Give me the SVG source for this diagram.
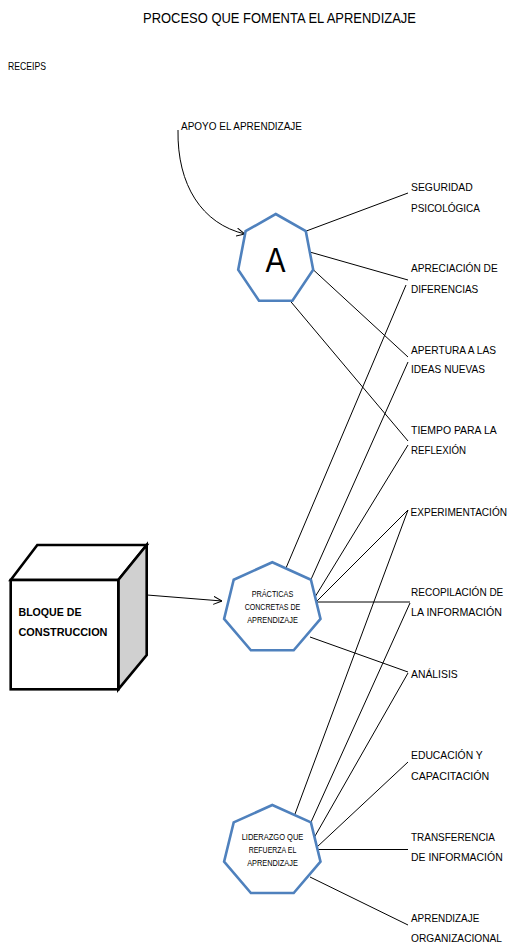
<svg xmlns="http://www.w3.org/2000/svg" width="511" height="943" viewBox="0 0 511 943">
<style>
text{font-family:"Liberation Sans",Arial,sans-serif;fill:#000}
.t{font-size:14.5px}
.l{font-size:11px}
.s{font-size:8.5px}
.b{font-size:11.5px;font-weight:bold}
.hep{fill:#fff;stroke:#4F81BD;stroke-width:2.6;stroke-linejoin:miter}
.c{stroke:#000;stroke-width:1;fill:none}
.cube{stroke:#000;stroke-width:2.6;stroke-linejoin:miter}
</style>
<defs>
<marker id="arr" viewBox="0 0 10 10" refX="9.5" refY="5" markerWidth="9" markerHeight="9" markerUnits="userSpaceOnUse" orient="auto">
<path d="M0,0.5 L9.5,5 L0,9.5" fill="none" stroke="#000" stroke-width="1.1"/>
</marker>
</defs>
<rect width="511" height="943" fill="#fff"/>
<text class="t" x="143" y="23" textLength="273" lengthAdjust="spacingAndGlyphs">PROCESO QUE FOMENTA EL APRENDIZAJE</text>
<text class="l" x="8" y="70" textLength="38" lengthAdjust="spacingAndGlyphs">RECEIPS</text>
<g id="connectors">
<path class="c" d="M178,130 C177,185 202,224 245,234" marker-end="url(#arr)"/>
<line class="c" x1="147" y1="595" x2="222" y2="601" marker-end="url(#arr)"/>
<line class="c" x1="305.8" y1="231.2" x2="408" y2="193"/>
<line class="c" x1="309.8" y1="252" x2="408" y2="280"/>
<line class="c" x1="313.2" y1="269.7" x2="408" y2="357"/>
<line class="c" x1="290" y1="300.7" x2="408" y2="441"/>
<line class="c" x1="286" y1="568" x2="406" y2="285"/>
<line class="c" x1="310.9" y1="579.7" x2="408" y2="362"/>
<line class="c" x1="315" y1="597" x2="408" y2="445"/>
<line class="c" x1="317" y1="601" x2="408" y2="510"/>
<line class="c" x1="317" y1="602" x2="410" y2="602"/>
<line class="c" x1="310" y1="637" x2="408" y2="672"/>
<line class="c" x1="295" y1="814" x2="408" y2="510"/>
<line class="c" x1="310.9" y1="822.4" x2="410" y2="603"/>
<line class="c" x1="314.5" y1="837" x2="408" y2="673"/>
<line class="c" x1="317" y1="847" x2="408" y2="762"/>
<line class="c" x1="318" y1="849.5" x2="408" y2="849.5"/>
<line class="c" x1="310" y1="877" x2="408" y2="925"/>
</g>
<g id="apoyo">
<text class="l" x="181" y="130" textLength="121" lengthAdjust="spacingAndGlyphs">APOYO EL APRENDIZAJE</text>
</g>
<g id="nodeA">
<polygon class="hep" points="275.7,214 305.8,231.2 313.2,269.7 292.4,300.7 259,300.7 238.2,269.7 245.6,231.2"/>
<text x="275.5" y="272" text-anchor="middle" style="font-size:35px" textLength="20" lengthAdjust="spacingAndGlyphs">A</text>
</g>
<g id="bloque">
<path class="cube" fill="#fff" d="M10.7,580 L37.3,545 L146.7,545 L118.3,580 Z"/>
<path class="cube" fill="#D0D0D0" d="M118.3,580 L146.7,545 L146.7,655 L118.3,689.3 Z"/>
<rect class="cube" fill="#fff" x="10.7" y="580" width="107.6" height="109.3"/>
<text class="b" x="18.5" y="616" textLength="63" lengthAdjust="spacingAndGlyphs">BLOQUE DE</text>
<text class="b" x="18.5" y="636" textLength="89" lengthAdjust="spacingAndGlyphs">CONSTRUCCION</text>
</g>
<g id="practicas">
<polygon class="hep" points="272.3,562.3 310.9,579.7 320.5,618.9 293.7,650.3 250.9,650.3 224.1,618.9 233.7,579.7"/>
<text class="s" x="272.5" y="597" text-anchor="middle" textLength="41.7" lengthAdjust="spacingAndGlyphs">PRÁCTICAS</text>
<text class="s" x="272.5" y="610" text-anchor="middle" textLength="55.7" lengthAdjust="spacingAndGlyphs">CONCRETAS DE</text>
<text class="s" x="272.5" y="623" text-anchor="middle" textLength="50.7" lengthAdjust="spacingAndGlyphs">APRENDIZAJE</text>
</g>
<g id="liderazgo">
<polygon class="hep" points="272.3,805 310.9,822.4 320.5,861.6 293.7,893 250.9,893 224.1,861.6 233.7,822.4"/>
<text class="s" x="272.5" y="840" text-anchor="middle" textLength="61.7" lengthAdjust="spacingAndGlyphs">LIDERAZGO QUE</text>
<text class="s" x="272.5" y="853.3" text-anchor="middle" textLength="47.7" lengthAdjust="spacingAndGlyphs">REFUERZA EL</text>
<text class="s" x="272.5" y="866" text-anchor="middle" textLength="50.7" lengthAdjust="spacingAndGlyphs">APRENDIZAJE</text>
</g>
<g id="seguridad">
<text class="l" x="411" y="191" textLength="61.7" lengthAdjust="spacingAndGlyphs">SEGURIDAD</text>
<text class="l" x="411" y="212" textLength="69" lengthAdjust="spacingAndGlyphs">PSICOLÓGICA</text>
</g>
<g id="apreciacion">
<text class="l" x="411" y="272" textLength="86.7" lengthAdjust="spacingAndGlyphs">APRECIACIÓN DE</text>
<text class="l" x="411" y="293" textLength="67.3" lengthAdjust="spacingAndGlyphs">DIFERENCIAS</text>
</g>
<g id="apertura">
<text class="l" x="411" y="354" textLength="85" lengthAdjust="spacingAndGlyphs">APERTURA A LAS</text>
<text class="l" x="411" y="373" textLength="74" lengthAdjust="spacingAndGlyphs">IDEAS NUEVAS</text>
</g>
<g id="tiempo">
<text class="l" x="411" y="434" textLength="85.7" lengthAdjust="spacingAndGlyphs">TIEMPO PARA LA</text>
<text class="l" x="411" y="454" textLength="55" lengthAdjust="spacingAndGlyphs">REFLEXIÓN</text>
</g>
<g id="experimentacion">
<text x="410.5" y="516" style="font-size:10px" textLength="96.5" lengthAdjust="spacingAndGlyphs">EXPERIMENTACIÓN</text>
</g>
<g id="recopilacion">
<text class="l" x="411" y="596" textLength="92.3" lengthAdjust="spacingAndGlyphs">RECOPILACIÓN DE</text>
<text class="l" x="411" y="616" textLength="91" lengthAdjust="spacingAndGlyphs">LA INFORMACIÓN</text>
</g>
<g id="analisis">
<text class="l" x="411" y="678" textLength="46.7" lengthAdjust="spacingAndGlyphs">ANÁLISIS</text>
</g>
<g id="educacion">
<text class="l" x="411" y="759" textLength="71.7" lengthAdjust="spacingAndGlyphs">EDUCACIÓN Y</text>
<text class="l" x="411" y="780" textLength="78.3" lengthAdjust="spacingAndGlyphs">CAPACITACIÓN</text>
</g>
<g id="transferencia">
<text class="l" x="411" y="841" textLength="84" lengthAdjust="spacingAndGlyphs">TRANSFERENCIA</text>
<text class="l" x="411" y="861" textLength="91.7" lengthAdjust="spacingAndGlyphs">DE INFORMACIÓN</text>
</g>
<g id="aprendizaje-org">
<text class="l" x="411" y="921.5" textLength="68.3" lengthAdjust="spacingAndGlyphs">APRENDIZAJE</text>
<text class="l" x="411" y="941.5" textLength="91" lengthAdjust="spacingAndGlyphs">ORGANIZACIONAL</text>
</g>
</svg>
